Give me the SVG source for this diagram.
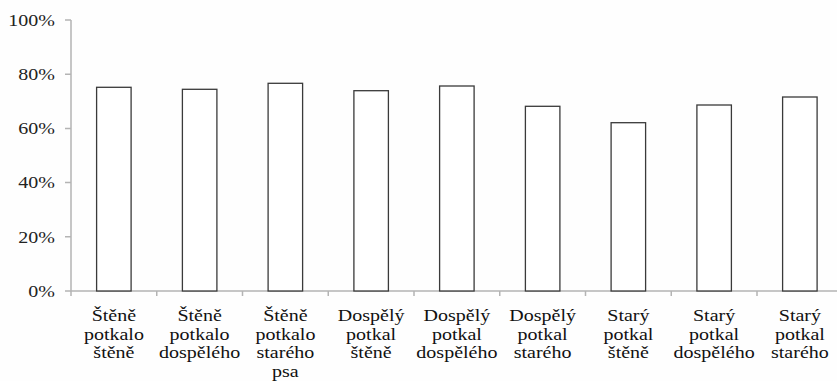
<svg xmlns="http://www.w3.org/2000/svg" width="837" height="381" viewBox="0 0 837 381">
<style>
.ax{stroke:#b4b4b4;stroke-width:1.5;fill:none}
.bar{fill:#ffffff;stroke:#3a3a3a;stroke-width:1.3}
.yl{font-family:"Liberation Serif","Times New Roman",serif;font-size:16px;fill:#222;text-anchor:end}
.cl{font-family:"Liberation Serif","Times New Roman",serif;font-size:16px;fill:#111;text-anchor:middle}
</style>
<rect x="0" y="0" width="837" height="381" fill="#fefefe"/>
<g id="axes">
<path class="ax" d="M71,20 V291 H837"/>
<path class="ax" d="M65,20 H71 M65,74.2 H71 M65,128.4 H71 M65,182.6 H71 M65,236.8 H71 M65,291 H71"/>
<path class="ax" d="M71,291 V296 M156.75,291 V296 M242.5,291 V296 M328.25,291 V296 M414,291 V296 M499.75,291 V296 M585.5,291 V296 M671.25,291 V296 M757,291 V296"/>
</g>
<g id="ylabels">
<text class="yl" transform="translate(55,25.7) scale(1.25,1)">100%</text>
<text class="yl" transform="translate(55,79.9) scale(1.25,1)">80%</text>
<text class="yl" transform="translate(55,134.1) scale(1.25,1)">60%</text>
<text class="yl" transform="translate(55,188.3) scale(1.25,1)">40%</text>
<text class="yl" transform="translate(55,242.5) scale(1.25,1)">20%</text>
<text class="yl" transform="translate(55,296.7) scale(1.25,1)">0%</text>
</g>
<g id="connectors"></g>
<g id="bar1">
<rect class="bar" x="96.6" y="87.3" width="34.5" height="203.7"/>
<text class="cl" transform="translate(113.9,321) scale(1.25,1)"><tspan x="0" y="0">Štěně</tspan><tspan x="0" y="18.7">potkalo</tspan><tspan x="0" y="37.4">štěně</tspan></text>
</g>
<g id="bar2">
<rect class="bar" x="182.4" y="89.3" width="34.5" height="201.7"/>
<text class="cl" transform="translate(199.6,321) scale(1.25,1)"><tspan x="0" y="0">Štěně</tspan><tspan x="0" y="18.7">potkalo</tspan><tspan x="0" y="37.4">dospělého</tspan></text>
</g>
<g id="bar3">
<rect class="bar" x="268.1" y="83.3" width="34.5" height="207.7"/>
<text class="cl" transform="translate(285.4,321) scale(1.25,1)"><tspan x="0" y="0">Štěně</tspan><tspan x="0" y="18.7">potkalo</tspan><tspan x="0" y="37.4">starého</tspan><tspan x="0" y="56.1">psa</tspan></text>
</g>
<g id="bar4">
<rect class="bar" x="353.9" y="90.7" width="34.5" height="200.3"/>
<text class="cl" transform="translate(371.1,321) scale(1.25,1)"><tspan x="0" y="0">Dospělý</tspan><tspan x="0" y="18.7">potkal</tspan><tspan x="0" y="37.4">štěně</tspan></text>
</g>
<g id="bar5">
<rect class="bar" x="439.6" y="86" width="34.5" height="205"/>
<text class="cl" transform="translate(456.9,321) scale(1.25,1)"><tspan x="0" y="0">Dospělý</tspan><tspan x="0" y="18.7">potkal</tspan><tspan x="0" y="37.4">dospělého</tspan></text>
</g>
<g id="bar6">
<rect class="bar" x="525.4" y="106.3" width="34.5" height="184.7"/>
<text class="cl" transform="translate(542.6,321) scale(1.25,1)"><tspan x="0" y="0">Dospělý</tspan><tspan x="0" y="18.7">potkal</tspan><tspan x="0" y="37.4">starého</tspan></text>
</g>
<g id="bar7">
<rect class="bar" x="611.1" y="122.7" width="34.5" height="168.3"/>
<text class="cl" transform="translate(628.4,321) scale(1.25,1)"><tspan x="0" y="0">Starý</tspan><tspan x="0" y="18.7">potkal</tspan><tspan x="0" y="37.4">štěně</tspan></text>
</g>
<g id="bar8">
<rect class="bar" x="696.9" y="105" width="34.5" height="186"/>
<text class="cl" transform="translate(714.1,321) scale(1.25,1)"><tspan x="0" y="0">Starý</tspan><tspan x="0" y="18.7">potkal</tspan><tspan x="0" y="37.4">dospělého</tspan></text>
</g>
<g id="bar9">
<rect class="bar" x="782.6" y="97" width="34.5" height="194"/>
<text class="cl" transform="translate(799.9,321) scale(1.25,1)"><tspan x="0" y="0">Starý</tspan><tspan x="0" y="18.7">potkal</tspan><tspan x="0" y="37.4">starého</tspan></text>
</g>
</svg>
